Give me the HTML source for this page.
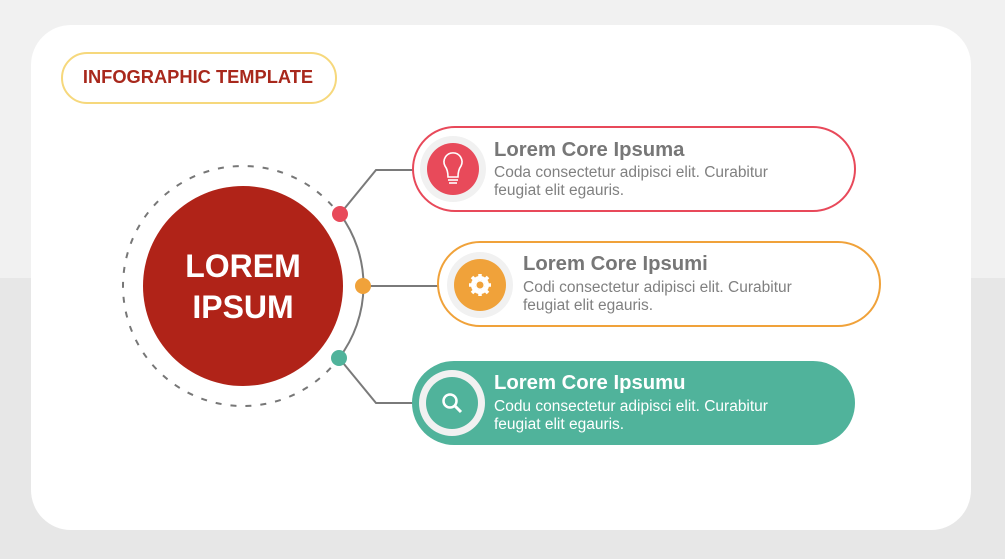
<!DOCTYPE html>
<html><head><meta charset="utf-8"><style>
body{margin:0;width:1005px;height:559px;overflow:hidden;font-family:"Liberation Sans",sans-serif;background:linear-gradient(#f1f1f1 0,#f1f1f1 278px,#e7e7e7 278px)}
</style></head><body>
<svg width="1005" height="559" viewBox="0 0 1005 559" style="position:absolute;left:0;top:0" font-family="Liberation Sans, sans-serif">
<rect x="31" y="25" width="940" height="505" rx="40" fill="#fff"/>
<rect x="62" y="53" width="274" height="50" rx="25" fill="#fff" stroke="#f6d87c" stroke-width="2"/>
<text x="198" y="83" text-anchor="middle" font-size="18.3" font-weight="bold" fill="#a8281c">INFOGRAPHIC TEMPLATE</text>
<circle cx="243" cy="286" r="120" fill="none" stroke="#777" stroke-width="2" stroke-dasharray="6 9"/>
<path d="M340 214 A120 120 0 0 1 339 358" fill="none" stroke="#fff" stroke-width="5"/>
<path d="M340 214 A120 120 0 0 1 339 358" fill="none" stroke="#7a7a7a" stroke-width="2"/>
<circle cx="243" cy="286" r="100" fill="#b02318"/>
<text x="243" y="277" text-anchor="middle" font-size="32" font-weight="bold" fill="#fff">LOREM</text>
<text x="243" y="318" text-anchor="middle" font-size="32" font-weight="bold" fill="#fff">IPSUM</text>
<polyline points="340,214 376,170 413,170" fill="none" stroke="#7a7a7a" stroke-width="2"/>
<line x1="363" y1="286" x2="438" y2="286" stroke="#7a7a7a" stroke-width="2"/>
<polyline points="339,358 376,403 413,403" fill="none" stroke="#7a7a7a" stroke-width="2"/>
<circle cx="340" cy="214" r="8" fill="#e84a5a"/>
<circle cx="363" cy="286" r="8" fill="#f0a23a"/>
<circle cx="339" cy="358" r="8" fill="#50b39b"/>

<rect x="413" y="127" width="442" height="84" rx="42" fill="#fff" stroke="#e8495a" stroke-width="2"/>
<circle cx="453" cy="169" r="33" fill="#f1f1f1"/>
<circle cx="453" cy="169" r="26" fill="#e84a5a"/>
<g fill="none" stroke="#fff" stroke-width="1.6"><path d="M448 177 Q448 170 445 166 A9 9 0 1 1 461 166 Q458 170 458 177 Z"/><line x1="448" y1="180" x2="458" y2="180"/><line x1="449" y1="183" x2="457" y2="183"/></g>
<text x="494" y="156" font-size="20.3" font-weight="bold" fill="#777">Lorem Core Ipsuma</text>
<text x="494" y="177" font-size="15.5" fill="#808080">Coda consectetur adipisci elit. Curabitur</text>
<text x="494" y="195" font-size="15.5" fill="#808080">feugiat elit egauris.</text>

<rect x="438" y="242" width="442" height="84" rx="42" fill="#fff" stroke="#f0a23a" stroke-width="2"/>
<circle cx="480" cy="285" r="33" fill="#f1f1f1"/>
<circle cx="480" cy="285" r="26" fill="#f0a23a"/>
<circle cx="480" cy="285" r="7" fill="none" stroke="#fff" stroke-width="4"/>
<g stroke="#fff" stroke-width="3.5"><line x1="480" y1="274" x2="480" y2="296"/><line x1="469" y1="285" x2="491" y2="285"/><line x1="472" y1="277" x2="488" y2="293"/><line x1="488" y1="277" x2="472" y2="293"/></g>
<circle cx="480" cy="285" r="3.5" fill="#f0a23a"/>
<text x="523" y="270" font-size="20.3" font-weight="bold" fill="#777">Lorem Core Ipsumi</text>
<text x="523" y="292" font-size="15.5" fill="#808080">Codi consectetur adipisci elit. Curabitur</text>
<text x="523" y="310" font-size="15.5" fill="#808080">feugiat elit egauris.</text>

<rect x="412" y="361" width="443" height="84" rx="42" fill="#50b39b"/>
<circle cx="452" cy="403" r="33" fill="#f1f1f1"/>
<circle cx="452" cy="403" r="26" fill="#50b39b"/>
<circle cx="450" cy="401" r="6.5" fill="none" stroke="#fff" stroke-width="2.5"/>
<line x1="455" y1="406" x2="461" y2="412" stroke="#fff" stroke-width="3"/>
<text x="494" y="389" font-size="20.3" font-weight="bold" fill="#fff">Lorem Core Ipsumu</text>
<text x="494" y="411" font-size="15.5" fill="#fff">Codu consectetur adipisci elit. Curabitur</text>
<text x="494" y="429" font-size="15.5" fill="#fff">feugiat elit egauris.</text>
</svg>
</body></html>
